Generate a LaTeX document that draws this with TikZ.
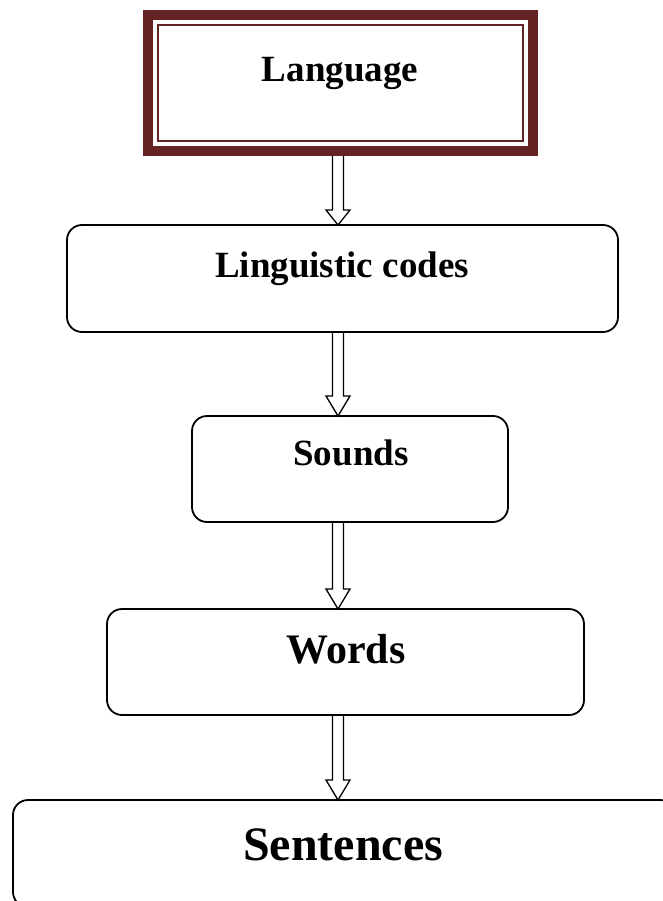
\documentclass[tikz,border=0pt]{standalone}
\usepackage{fontspec}
\setmainfont{Liberation Serif}
\usetikzlibrary{calc}
\definecolor{framered}{RGB}{99,36,35}

% hollow block arrow from the bottom of #2 down to the top of #3, head length #1
\newcommand{\blockarrow}[3][18]{%
  \draw[blockarr] ($(#2.south -| ax)+(-5.5,0)$) -- ($(#3.north -| ax)+(-5.5,-#1)$)
    -- ++(-6.5,0) -- (#3.north -| ax) -- ($(#3.north -| ax)+(12,-#1)$)
    -- ++(-6.5,0) -- ($(#2.south -| ax)+(5.5,0)$);}

\begin{document}
\begin{tikzpicture}[x=1pt,y=-1pt,
  every node/.style={outer sep=0pt, inner sep=0pt},
  box/.style={draw, line width=1.8pt, rounded corners=15pt},
  title/.style={anchor=base, font=\bfseries\fontsize{#1}{#1}\selectfont},
  blockarr/.style={line width=1.3pt, line join=miter}]
\useasboundingbox (0,0) rectangle (662,901);
\coordinate (ax) at (338,0);

% framed title
\node[draw=framered, line width=10pt, outer sep=5pt, minimum width=385pt, minimum height=136pt] (lang) at (340.5,83) {};
\draw[framered, line width=2.5pt] ($(lang.north west)+(15,15)$) rectangle ($(lang.south east)+(-15,-15)$);
\node[title=37] (langtxt) at (340,82) {Language};

% rounded boxes
\node[box, minimum width=551pt, minimum height=107pt] (codes) at (342.5,278.5) {};
\node[title=37] (codestxt) at (342,277) {Linguistic codes};

\node[box, minimum width=316pt, minimum height=106pt] (sounds) at (350,469) {};
\node[title=37] (soundstxt) at (351,465) {Sounds};

\node[box, minimum width=477pt, minimum height=106pt] (words) at (345.5,662) {};
\node[title=42] (wordstxt) at (346,663) {Words};

\node[box, minimum width=662pt, minimum height=107pt] (sent) at (344,853.5) {};
\node[title=48] (senttxt) at (343,860) {Sentences};

% arrows
\blockarrow[15]{lang}{codes}
\blockarrow[20]{codes}{sounds}
\blockarrow[20]{sounds}{words}
\blockarrow[20]{words}{sent}
\end{tikzpicture}
\end{document}
